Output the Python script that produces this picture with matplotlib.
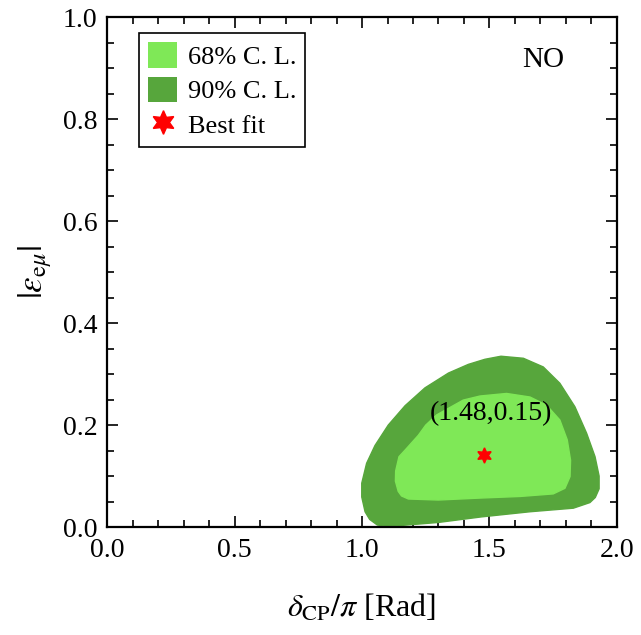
import matplotlib
matplotlib.use("Agg")
import matplotlib.pyplot as plt
from matplotlib.patches import Patch
from matplotlib.lines import Line2D
from matplotlib.ticker import MultipleLocator, FormatStrFormatter

plt.rcParams['font.family'] = ['Liberation Serif', 'DejaVu Serif']
plt.rcParams['mathtext.fontset'] = 'stix'

# 90% C.L. contour (delta_CP/pi, |eps_emu|)
cl90_x = [1.103, 1.060, 1.030, 1.012, 0.999, 0.999, 1.018, 1.051, 1.103, 1.169,
          1.247, 1.339, 1.417, 1.482, 1.545, 1.633, 1.711, 1.776, 1.835, 1.881,
          1.914, 1.930, 1.930, 1.915, 1.894, 1.829, 1.659, 1.470, 1.299]
cl90_y = [0.001, 0.004, 0.015, 0.030, 0.059, 0.086, 0.125, 0.160, 0.200, 0.238,
          0.273, 0.302, 0.319, 0.329, 0.335, 0.331, 0.314, 0.282, 0.236, 0.184,
          0.138, 0.100, 0.075, 0.058, 0.048, 0.037, 0.030, 0.020, 0.009]
# 68% C.L. contour
cl68_x = [1.142, 1.131, 1.132, 1.145, 1.169, 1.221, 1.250, 1.293, 1.397, 1.463,
          1.567, 1.659, 1.724, 1.776, 1.805, 1.818, 1.816, 1.796, 1.750, 1.620,
          1.470, 1.299, 1.182, 1.155]
cl68_y = [0.070, 0.090, 0.110, 0.138, 0.151, 0.180, 0.200, 0.220, 0.249, 0.257,
          0.262, 0.255, 0.239, 0.210, 0.171, 0.131, 0.099, 0.076, 0.065, 0.060,
          0.057, 0.053, 0.055, 0.061]
best_fit = (1.48, 0.142)
best_label = "(1.48,0.15)"
legend_labels = ["68% C. L.", "90% C. L.", "Best fit"]

c68 = '#7FE857'
c90 = '#57A63C'

fig = plt.figure(figsize=(6.41, 6.35), dpi=100)
ax = fig.add_axes([0.167, 0.170, 0.7955, 0.803])

ax.fill(cl90_x, cl90_y, color=c90, lw=1.0, ec=c90, joinstyle='round', zorder=2)
ax.fill(cl68_x, cl68_y, color=c68, lw=1.0, ec=c68, joinstyle='round', zorder=3)
ax.plot([best_fit[0]], [best_fit[1]], marker=(6, 1, 0), color='red', ms=11,
        ls='none', zorder=5)
ax.text(1.505, 0.222, best_label, fontsize=20, ha='center', va='center', zorder=6)
ax.text(1.71, 0.915, "NO", fontsize=21, ha='center', va='center')

ax.set_xlim(0, 2)
ax.set_ylim(0, 1)
ax.xaxis.set_major_locator(MultipleLocator(0.5))
ax.xaxis.set_minor_locator(MultipleLocator(0.1))
ax.yaxis.set_major_locator(MultipleLocator(0.2))
ax.yaxis.set_minor_locator(MultipleLocator(0.05))
ax.xaxis.set_major_formatter(FormatStrFormatter('%.1f'))
ax.yaxis.set_major_formatter(FormatStrFormatter('%.1f'))
ax.tick_params(which='both', direction='in', top=True, right=True, width=1.2)
ax.tick_params(which='major', length=8, labelsize=20)
ax.tick_params(which='minor', length=5)
ax.tick_params(axis='x', pad=8)
ax.tick_params(axis='y', pad=7)
for s in ax.spines.values():
    s.set_linewidth(1.6)

ax.set_xlabel(r'$\delta_{\mathrm{CP}}/\pi$ [Rad]', fontsize=23, labelpad=21)
ax.set_ylabel(r'$|\varepsilon_{\mathrm{e}\mu}|$', fontsize=25, labelpad=6)

handles = [Patch(facecolor=c68, edgecolor='none'),
           Patch(facecolor=c90, edgecolor='none'),
           Line2D([], [], marker=(6, 1, 0), color='red', ms=17, ls='none')]
leg = ax.legend(handles, legend_labels, loc='upper left',
                bbox_to_anchor=(0.063, 0.969), borderaxespad=0, fontsize=19,
                handlelength=1.07, handleheight=1.1, handletextpad=0.42,
                labelspacing=0.3, borderpad=0.35, fancybox=False, framealpha=1)
leg.get_frame().set_edgecolor('black')
leg.get_frame().set_linewidth(1.2)

fig.savefig('out.png', dpi=100)
